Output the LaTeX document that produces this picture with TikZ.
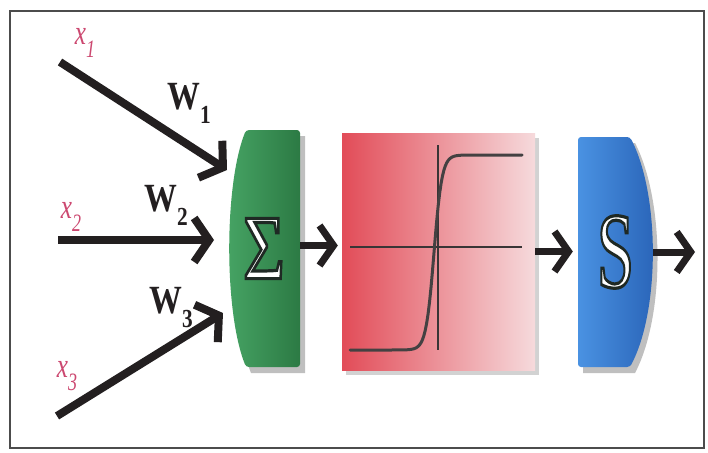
\documentclass[tikz,border=0pt]{standalone}
\usepackage{fontspec}
\setmainfont{Liberation Serif}
\usetikzlibrary{arrows.meta,shadows}
\definecolor{ink}{HTML}{231F20}
\definecolor{xred}{HTML}{CC4870}
\definecolor{gL}{HTML}{47A565}
\definecolor{gR}{HTML}{2C7A44}
\definecolor{bL}{HTML}{4A92E2}
\definecolor{bR}{HTML}{2862B6}
\definecolor{rL}{HTML}{E24C58}
\definecolor{rR}{HTML}{F6DADC}
\tikzset{
  inarr/.style={line width=8pt, ink, -{Straight Barb[length=15pt,width=44pt]}},
  midarr/.style={line width=7pt, ink, -{Straight Barb[length=14pt,width=40pt]}},
  anchorbox/.style={draw=none, inner sep=0pt, rectangle},
  wlab/.style={font=\fontsize{40}{40}\selectfont\bfseries, ink, inner sep=0pt, xscale=0.82},
  xlab/.style={font=\fontsize{28}{28}\selectfont\itshape, xred, inner sep=0pt, yscale=1.25, xscale=0.9},
  bigsym/.style={inner sep=0pt, white},
  axis/.style={line width=2.8pt, ink!90},
  blockshadow/.style={fill=black, opacity=0.25}
}
\newcommand{\wsub}[1]{W\raisebox{-0.35em}{\fontsize{26}{26}\selectfont #1}}
\newcommand{\xsub}[1]{x\raisebox{-0.35em}{\fontsize{20}{20}\selectfont #1}}
\newcommand{\outlined}[1]{\special{pdf:literal direct 2 Tr 3.2 w 0.12 0.16 0.14 RG}#1\special{pdf:literal direct 0 Tr}}
\begin{document}
\begin{tikzpicture}[x=1pt,y=-1pt]
\useasboundingbox (0,0) rectangle (708,452);
\fill[white] (0,0) rectangle (708,452);
\draw[line width=1.3pt, black!70] (10,11) rectangle (704,448);

% anchor nodes
\node[anchorbox, minimum width=72pt, minimum height=237pt] (sum) at (264,248.5) {};
\node[anchorbox, minimum width=75pt, minimum height=230pt] (out) at (615.5,252) {};

% green summation block
\fill[blockshadow] (305,136) -- (251,136) .. controls (229,191) and (229,318) .. (251,373) -- (305,373) -- cycle;
\shade[left color=gL, right color=gR, rounded corners=3pt]
  (300,130) -- (246,130) .. controls (224,185) and (224,312) .. (246,367) -- (300,367) -- cycle;

% red activation block
\node[anchorbox, minimum width=193pt, minimum height=237pt, left color=rL, right color=rR,
      drop shadow={opacity=0.35, shadow xshift=4pt, shadow yshift=-5pt}] (act) at (438.5,251.5) {};
\draw[axis] (350,247) -- (522,247);
\draw[axis] (438,145) -- (438,350);
\draw[line width=3pt, ink!85, line cap=round]
  plot[domain=-84:88, samples=120] ({434+\x}, {252.5-97.5*tanh(max(min(\x/8,6),-6))});

% blue output block
\fill[blockshadow] (583,143) -- (635,143) .. controls (665,201) and (665,316) .. (635,373) -- (583,373) -- cycle;
\shade[left color=bL, right color=bR, rounded corners=3pt]
  (578,137) -- (630,137) .. controls (660,195) and (660,310) .. (630,367) -- (578,367) -- cycle;

% input arrows
\coordinate (x1s) at (60,62);   \coordinate (t1) at (227,170);
\coordinate (x2s) at (58,240);  \coordinate (t2) at (214,240);
\coordinate (x3s) at (57,416);  \coordinate (t3) at (223,313);
\draw[inarr] (x1s) -- (t1);
\draw[inarr] (x2s) -- (t2);
\draw[inarr] (x3s) -- (t3);

% connectors between blocks
\draw[midarr, shorten >=4pt] ([yshift=3pt]sum.east) -- ([yshift=3pt]sum.east -| act.west);
\draw[midarr, shorten >=5pt] (act.east) -- (act.east -| out.west);
\coordinate (yout) at (695,252);
\draw[midarr] (out.east) -- (yout);

% labels
\node[xlab] (lx1) at (85,43) {\xsub{1}};
\node[xlab] (lx2) at (71,217) {\xsub{2}};
\node[xlab] (lx3) at (67,376) {\xsub{3}};
\node[wlab] (lw1) at (189,103) {\wsub{1}};
\node[wlab] (lw2) at (166,205) {\wsub{2}};
\node[wlab] (lw3) at (171,308) {\wsub{3}};

% outlined symbols
\begin{scope}
\node[bigsym, font=\fontsize{92}{92}\selectfont, xscale=0.78] (sig) at (sum.center) {\outlined{Σ}};
\end{scope}
\begin{scope}
\node[bigsym, font=\fontsize{108}{108}\selectfont, xscale=0.62] (ess) at (out.center) {\outlined{S}};
\end{scope}
\end{tikzpicture}
\end{document}
